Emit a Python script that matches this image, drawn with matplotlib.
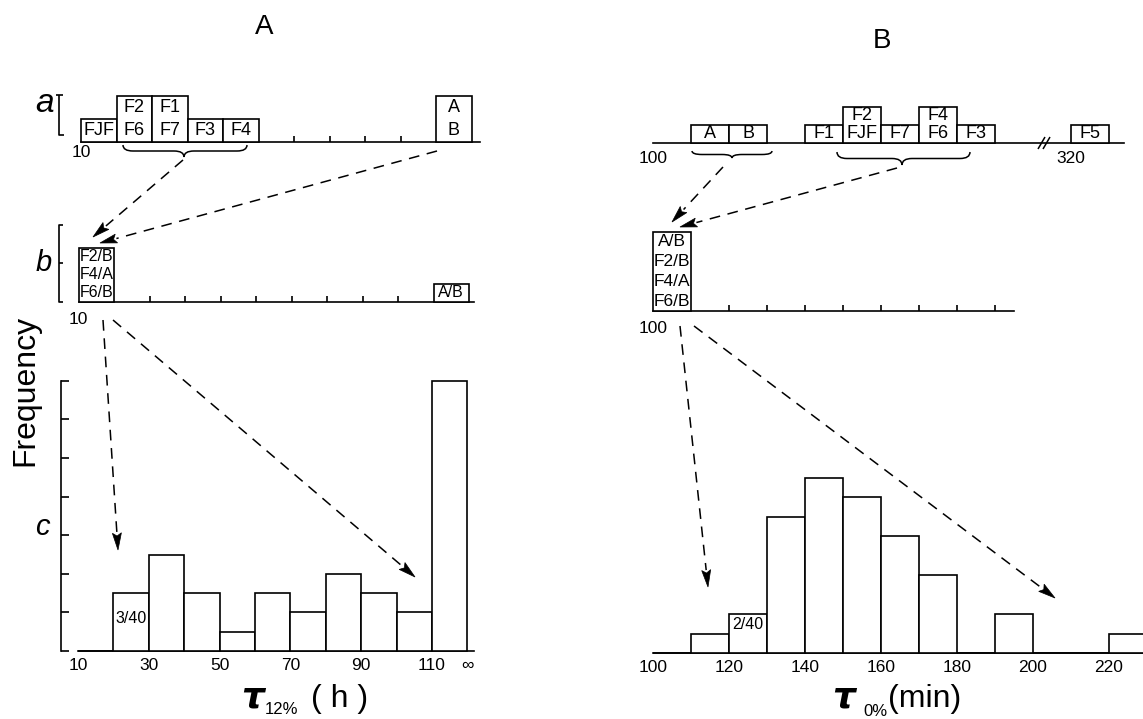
import matplotlib
matplotlib.use('Agg')
import matplotlib.pyplot as plt
import numpy as np
from matplotlib.path import Path
from matplotlib.patches import PathPatch, Polygon, Rectangle

W, H = 1143, 719
FONT = ['Liberation Sans', 'DejaVu Sans']
plt.rcParams['font.family'] = FONT
LW = 1.2

# ---------------- data ----------------
# Column A : tau_12% (h)
A_a_start = [10, 20, 30, 40, 50, 110]
A_a_labels = [["FJF"], ["F2", "F6"], ["F1", "F7"], ["F3"], ["F4"], ["A", "B"]]
A_b_start = [10, 110]
A_b_labels = [["F2/B", "F4/A", "F6/B"], ["A/B"]]
A_c_edges = [10, 20, 30, 40, 50, 60, 70, 80, 90, 100, 110, 120]
A_c_counts = [0, 3, 5, 3, 1, 3, 2, 4, 3, 2, 14]
A_ticks = [10, 30, 50, 70, 90, 110, 120]
A_ticklabels = ['10', '30', '50', '70', '90', '110', '\u221e']
A_top_minor = [70, 80, 90, 100]
A_mid_minor = [30, 40, 50, 60, 70, 80, 90, 100]
A_freq_ticks = [0, 2, 4, 6, 8, 10, 12, 14]

# Column B : tau_0% (min)
B_a_start = [110, 120, 140, 150, 160, 170, 180, 320]
B_a_labels = [["A"], ["B"], ["F1"], ["F2", "FJF"], ["F7"], ["F4", "F6"], ["F3"], ["F5"]]
B_break_at = 200      # axis broken after this value
B_break_shift = 110   # values beyond the break are drawn shifted left by this
B_b_start = [100]
B_b_labels = [["A/B", "F2/B", "F4/A", "F6/B"]]
B_mid_minor = [120, 130, 140, 150, 160, 170, 180, 190]
B_c_edges = [100, 110, 120, 130, 140, 150, 160, 170, 180, 190, 200, 210, 220, 230]
B_c_counts = [0, 1, 2, 7, 9, 8, 6, 4, 0, 2, 0, 0, 1]
B_ticks = [100, 120, 140, 160, 180, 200, 220]
BIN = 10


def brk(v):
    return v - B_break_shift if v > B_break_at else v


fig = plt.figure(figsize=(W / 100, H / 100), dpi=100)
fig.patch.set_facecolor('white')
_n = [0]


def make_ax(px0, sx, py0, sy):
    """Full-figure axes whose data origin sits at pixel (px0, py0)."""
    _n[0] += 1
    ax = fig.add_axes([0, 0, 1, 1], label='p%d' % _n[0])
    ax.set_xlim(-px0 / sx, (W - px0) / sx)
    ax.set_ylim((py0 - H) / sy, py0 / sy)
    ax.patch.set_visible(False)
    for s in ax.spines.values():
        s.set_visible(False)
    ax.set_xticks([])
    ax.set_yticks([])
    return ax


def baseline(ax, x0, x1, major, labels, minor=(), major_len=0, minor_len=4.5,
             pad=3, fs=12.5):
    sp = ax.spines['bottom']
    sp.set_visible(True)
    sp.set_position(('data', 0))
    sp.set_bounds(x0, x1)
    sp.set_linewidth(LW)
    ax.set_xticks(major, labels)
    ax.set_xticks(list(minor), minor=True)
    ax.tick_params(axis='x', which='major', direction='in', length=major_len,
                   width=LW, pad=pad, labelsize=fs)
    ax.tick_params(axis='x', which='minor', direction='in', length=minor_len,
                   width=LW)


def draw_boxes(ax, starts, labels, fs, pos=lambda v: v):
    for s, labs in zip(starts, labels):
        n = len(labs)
        x = pos(s)
        ax.add_patch(Rectangle((x, 0), BIN, n, facecolor='white',
                               edgecolor='k', lw=LW, zorder=3))
        for i, lab in enumerate(labs):
            ax.text(x + BIN / 2, n - i - 0.5, lab, ha='center', va='center',
                    fontsize=fs, zorder=4)


# ---------------- column A ----------------
axAa = make_ax(45.5, 3.55, 142, 23)
baseline(axAa, 10, 122.4, [10], ['10'], A_top_minor, pad=2)
draw_boxes(axAa, A_a_start, A_a_labels, 13)

axAb = make_ax(43.0, 3.55, 302, 18)
baseline(axAb, 10, 121.5, [10], ['10'], A_mid_minor, pad=7)
draw_boxes(axAb, A_b_start, A_b_labels, 11.5)

axAc = make_ax(42.6, 3.54, 651, 19.3)
axAc.bar(A_c_edges[:-1], A_c_counts, width=np.diff(A_c_edges), align='edge',
         facecolor='white', edgecolor='k', lw=LW, zorder=3)
baseline(axAc, 10, 122, A_ticks, A_ticklabels, pad=5)
sp = axAc.spines['left']
sp.set_visible(True)
sp.set_position(('data', 5.2))
sp.set_bounds(0, A_freq_ticks[-1])
sp.set_linewidth(LW)
axAc.set_yticks(A_freq_ticks, [''] * len(A_freq_ticks))
axAc.tick_params(axis='y', direction='in', length=5.5, width=LW)
axAc.text(A_c_edges[1] + BIN / 2, 1.7,
          '%d/%d' % (A_c_counts[1], sum(A_c_counts)),
          ha='center', va='center', fontsize=11.5, zorder=4)

# ---------------- column B ----------------
axBa = make_ax(273, 3.8, 143, 18)
baseline(axBa, 100, 224, [100, brk(320)], ['100', '320'], [100],
         minor_len=5, pad=6)
draw_boxes(axBa, B_a_start, B_a_labels, 13, pos=brk)

axBb = make_ax(273, 3.8, 311, 19.8)
baseline(axBb, 100, 195, [100], ['100'], B_mid_minor, pad=7)
draw_boxes(axBb, B_b_start, B_b_labels, 12.5)

axBc = make_ax(273, 3.8, 653, 19.5)
axBc.bar(B_c_edges[:-1], B_c_counts, width=np.diff(B_c_edges), align='edge',
         facecolor='white', edgecolor='k', lw=LW, zorder=3)
baseline(axBc, 100, 232, B_ticks, [str(t) for t in B_ticks], [100],
         minor_len=5, pad=5)
axBc.text(B_c_edges[2] + BIN / 2, 1.45,
          '%d/%d' % (B_c_counts[2], sum(B_c_counts)),
          ha='center', va='center', fontsize=11.5, zorder=4)

# ---------------- overlay (pixel coordinates) ----------------
ov = fig.add_axes([0, 0, 1, 1], label='overlay')
ov.set_xlim(0, W)
ov.set_ylim(H, 0)
ov.axis('off')
ov.patch.set_visible(False)


def seg(pts, lw=LW):
    pts = np.array(pts, float)
    ov.plot(pts[:, 0], pts[:, 1], color='k', lw=lw, solid_capstyle='butt')


def dashed_arrow(p0, p1, head_len=17, head_w=4.5):
    x0, y0 = p0
    x1, y1 = p1
    d = np.hypot(x1 - x0, y1 - y0)
    ux, uy = (x1 - x0) / d, (y1 - y0) / d
    bx, by = x1 - ux * head_len, y1 - uy * head_len
    ov.plot([x0, bx], [y0, by], color='k', lw=1.1, ls=(0, (7, 5)))
    nx, ny = -uy, ux
    ov.add_patch(Polygon([[x1, y1], [bx + nx * head_w, by + ny * head_w],
                          [bx + ux * 3, by + uy * 3],
                          [bx - nx * head_w, by - ny * head_w]],
                         closed=True, facecolor='k', edgecolor='k', lw=0.5))


def brace(x1, x2, y0, h, xm=None, lw=1.1):
    if xm is None:
        xm = (x1 + x2) / 2
    q = min(10, (xm - x1) / 3)
    verts = [(x1, y0), (x1, y0 + h), (x1 + q, y0 + h),
             (xm - q, y0 + h),
             (xm, y0 + h), (xm, y0 + 2 * h),
             (xm, y0 + h), (xm + q, y0 + h),
             (x2 - q, y0 + h),
             (x2, y0 + h), (x2, y0)]
    codes = [Path.MOVETO, Path.CURVE3, Path.CURVE3, Path.LINETO,
             Path.CURVE3, Path.CURVE3, Path.CURVE3, Path.CURVE3,
             Path.LINETO, Path.CURVE3, Path.CURVE3]
    ov.add_patch(PathPatch(Path(verts, codes), fill=False, lw=lw, edgecolor='k'))


# titles
ov.text(264, 27, 'A', ha='center', va='center', fontsize=20)
ov.text(882, 41, 'B', ha='center', va='center', fontsize=20)

# row letters and brackets
ov.text(45, 103, 'a', ha='center', va='center', fontsize=24, style='italic')
ov.text(44, 263, 'b', ha='center', va='center', fontsize=21, style='italic')
ov.text(42, 527, 'c', ha='center', va='center', fontsize=21, style='italic')
seg([(56, 95), (63, 95)])
seg([(58.5, 95), (58.5, 135), (64, 135)])
seg([(63, 225), (58.5, 225), (58.5, 302), (63, 302)])
seg([(58.5, 263), (63, 263)])

ov.text(25, 390, 'Frequency', rotation=90, ha='center', va='center', fontsize=23)

# braces
brace(123, 247, 145, 6, xm=184)
brace(692, 772, 151, 3.5, xm=732)
brace(837, 970, 152, 6.5, xm=902)

# axis break mark
seg([(1038, 149), (1045, 137)], lw=1.1)
seg([(1043, 149), (1050, 137)], lw=1.1)

# arrows
dashed_arrow((183, 160), (93, 237))
dashed_arrow((437, 151), (100, 243))
dashed_arrow((103, 320), (118, 550))
dashed_arrow((113, 320), (415, 577))
dashed_arrow((723, 167), (672, 222))
dashed_arrow((897, 168), (680, 227))
dashed_arrow((680, 326), (708, 587))
dashed_arrow((694, 326), (1055, 598))

# x labels
ov.text(253, 697, '\u03c4', ha='center', va='center', fontsize=26,
        style='italic', weight='bold', family='DejaVu Sans')
ov.text(282, 710, '12%', ha='center', va='center', fontsize=12)
ov.text(340, 699, '( h )', ha='center', va='center', fontsize=23)
ov.text(844, 697, '\u03c4', ha='center', va='center', fontsize=26,
        style='italic', weight='bold', family='DejaVu Sans')
ov.text(875, 712, '0%', ha='center', va='center', fontsize=12)
ov.text(925, 699, '(min)', ha='center', va='center', fontsize=23)

fig.savefig('out.png', dpi=100)
